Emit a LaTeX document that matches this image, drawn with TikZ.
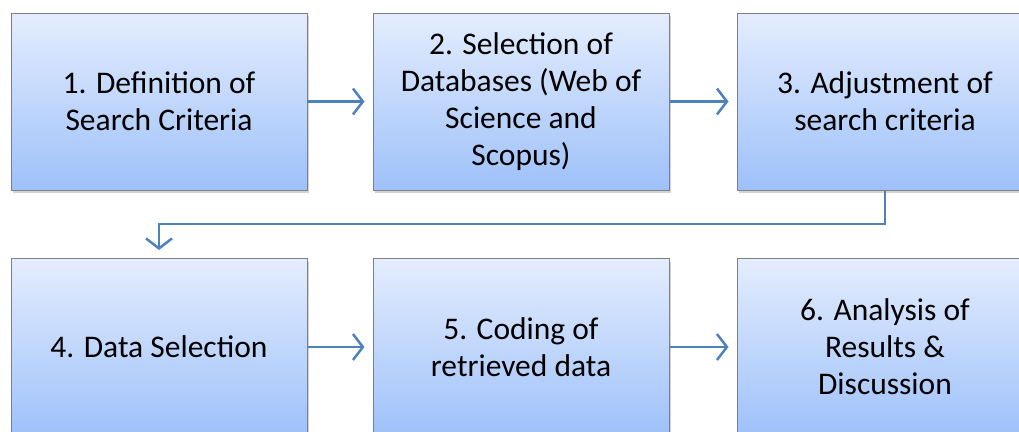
\documentclass[tikz,border=0pt]{standalone}
\usepackage{fontspec}
\setmainfont{Carlito}
\usetikzlibrary{arrows.meta}
\usetikzlibrary{shadows}
\definecolor{StepTop}{RGB}{228,237,253}
\definecolor{StepBottom}{RGB}{158,193,250}
\definecolor{StepBorder}{RGB}{128,128,128}
\definecolor{FlowBlue}{RGB}{79,129,189}
\newcommand{\stepw}{296pt}
\newcommand{\steph}{177pt}
\newcommand{\colA}{159}
\newcommand{\colB}{521}
\newcommand{\colC}{885}
\newcommand{\rowA}{101.5}
\newcommand{\rowB}{347}
\newcommand{\loopy}{224}

\tikzset{
  stepbox/.style={draw=StepBorder, line width=1pt, inner sep=0pt,
    minimum width=\stepw, minimum height=\steph,
    top color=StepTop, bottom color=StepBottom,
    drop shadow={shadow xshift=2pt, shadow yshift=-3pt, opacity=0.35},
    align=center, font=\fontsize{31.5}{37}\selectfont},
  flow/.style={draw=FlowBlue, line width=2.5pt,
    -{Straight Barb[length=10pt, width=26pt, line width=2.5pt]}, shorten >=8pt}
}

\begin{document}
\begin{tikzpicture}[x=1pt, y=-1pt]
    \useasboundingbox (0,0) rectangle (1019,431);
    % first row
    \node[stepbox] (crit) at (\colA, \rowA) {1. Definition of\\Search Criteria};
    \node[stepbox] (dbs) at (\colB, \rowA)
      {2. Selection of\\Databases (Web of\\Science and\\Scopus)};
    \node[stepbox] (adj) at (\colC, \rowA) {3. Adjustment of\\search criteria};
    % second row
    \node[stepbox] (sel) at (\colA, \rowB) {4. Data Selection};
    \node[stepbox] (cod) at (\colB, \rowB) {5. Coding of\\retrieved data};
    \node[stepbox] (res) at (\colC, \rowB) {6. Analysis of\\Results \&\\Discussion};

    \begin{scope}
      \draw[flow] (crit.east) -- (dbs.west);
      \draw[flow] (dbs.east) -- (adj.west);
      \draw[flow] (adj.south) |- (\colA, \loopy) -- (sel.north);
      \draw[flow] (sel.east) -- (cod.west);
      \draw[flow] (cod.east) -- (res.west);
    \end{scope}
  \end{tikzpicture}
\end{document}
